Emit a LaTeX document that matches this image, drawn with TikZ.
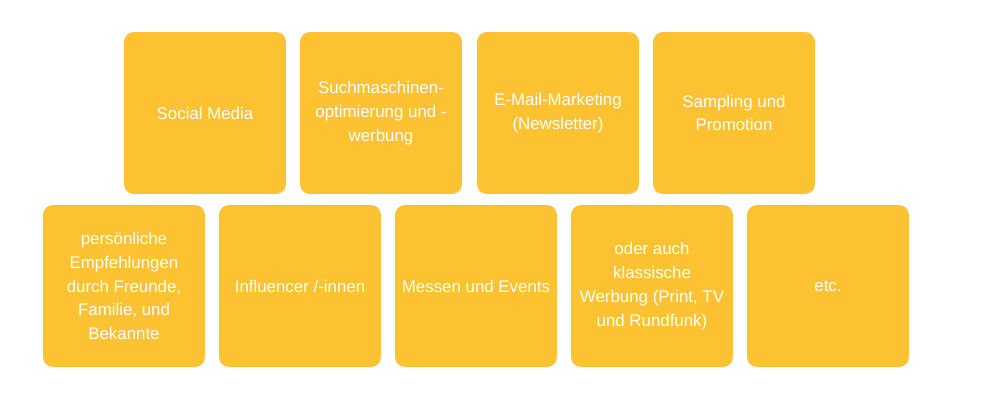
\documentclass[tikz,border=0pt]{standalone}
\usepackage{fontspec}
\setmainfont{Liberation Sans}
\usepackage{tikz}
\usetikzlibrary{positioning}
\definecolor{KanalGelb}{HTML}{FCC232}

\tikzset{
  kanal/.style={fill=KanalGelb, rounded corners=0.2cm, inner sep=0pt,
    minimum width=3.24cm, minimum height=3.24cm, text=white, align=center,
    font=\fontsize{9.6}{13.6}\selectfont}
}

\begin{document}
\begin{tikzpicture}[x=0.02cm, y=-0.02cm]
\useasboundingbox (0,0) rectangle (1000,400);
% Obere Reihe
\node[kanal] (social) at (205,113) {Social Media};
\node[kanal] (sem) at (381,113) {Suchmaschinen-\\optimierung und -\\werbung};
\node[kanal] (mail) at (558,113) {E-Mail-Marketing\\(Newsletter)};
\node[kanal] (sampling) at (734,113) {Sampling und\\Promotion};

% Untere Reihe
\node[kanal] (empf) at (124,286) {persönliche\\Empfehlungen\\durch Freunde,\\Familie, und\\Bekannte};
\node[kanal] (influ) at (300,286) {Influencer /-innen};
\node[kanal] (messen) at (476,286) {Messen und Events};
\node[kanal] (klassisch) at (652,286) {oder auch\\klassische\\Werbung (Print, TV\\und Rundfunk)};
\node[kanal] (etc) at (828,286) {etc.};
\end{tikzpicture}
\end{document}
